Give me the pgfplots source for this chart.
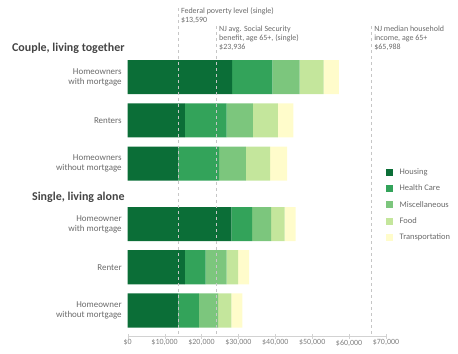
\documentclass[border=0pt]{standalone}
\usepackage{pgfplots}
\pgfplotsset{compat=1.18}
\usepackage{pgfplotstable}
\usepackage{fontspec}
\setmainfont{Carlito}
\definecolor{c1}{HTML}{0B6E37}
\definecolor{c2}{HTML}{33A35A}
\definecolor{c3}{HTML}{7CC67D}
\definecolor{c4}{HTML}{C4E69C}
\definecolor{c5}{HTML}{FFFCCB}
\definecolor{txt}{HTML}{6A6A6A}
\definecolor{hdr}{HTML}{444444}

\pgfplotstableread{
y housing health misc food transport
0 28300 10900 7400 6500 4100
-1 15500 11300 7100 6800 4200
-2 13700 11100 7200 6600 4600
-3.4 28100 5600 5200 3600 3000
-4.4 15500 5600 5700 3100 3000
-5.4 13700 5600 5200 3600 3000
}\data

\begin{document}
\begin{tikzpicture}
\useasboundingbox (0,0) rectangle (458bp,354bp);
\begin{axis}[
 at={(127.7bp,18bp)}, anchor=south west,
 scale only axis, width=258.3bp, height=331bp,
 xbar stacked, bar width=0.79,
 xmin=0, xmax=70000, ymin=-5.99, ymax=1.67,
 scaled x ticks=false,
 axis x line*=bottom, axis y line*=left,
 x axis line style={draw=gray!35,-},
 y axis line style={draw=none},
 ytick={0,-1,-2,-3.4,-4.4,-5.4},
 yticklabels={{Homeowners\\with mortgage},Renters,{Homeowners\\without mortgage},{Homeowner\\with mortgage},Renter,{Homeowner\\without mortgage}},
 yticklabel style={align=right, font=\fontsize{9}{10}\selectfont, text=txt},
 ytick style={draw=none},
 xtick={0,10000,20000,30000,40000,50000,60000,70000},
 xticklabels={{\$0},{\$10,000},{\$20,000},{\$30,000},{\$40,000},{\$50,000},{\$60,000},{\$70,000}},
 xticklabel style={font=\fontsize{8}{9}\selectfont, text=txt!85, inner sep=1bp},
 xtick style={draw=gray!35},
 tick align=center, major tick length=5bp,
 clip=false,
 legend style={at={(1,0.511)}, anchor=north west, draw=none, fill=none,
   font=\fontsize{8.5}{9}\selectfont, text=txt, cells={anchor=west},
   row sep=6bp, inner sep=0pt, nodes={inner sep=1.5bp},
   /tikz/every odd column/.append style={column sep=5bp}},
 legend image code/.code={\fill[#1] (1bp,-3.5bp) rectangle (8bp,3.5bp);},
]
\addplot[fill=c1, draw=none] table[x=housing, y=y] {\data};
\addplot[fill=c2, draw=none] table[x=health, y=y] {\data};
\addplot[fill=c3, draw=none] table[x=misc, y=y] {\data};
\addplot[fill=c4, draw=none] table[x=food, y=y] {\data};
\addplot[fill=c5, draw=none] table[x=transport, y=y] {\data};
\legend{Housing,Health Care,Miscellaneous,Food,Transportation}
\end{axis}
\begin{axis}[
 at={(127.7bp,18bp)}, anchor=south west,
 scale only axis, width=258.3bp, height=331bp,
 xmin=0, xmax=70000, ymin=-5.99, ymax=1.67,
 hide axis, clip=false,
]
\addplot[gray!45, dashed, line width=0.6pt] coordinates {(13590,1.60) (13590,-5.99)};
\addplot[gray!45, dashed, line width=0.6pt] coordinates {(23936,1.18) (23936,-5.99)};
\addplot[gray!45, dashed, line width=0.6pt] coordinates {(65988,1.18) (65988,-5.99)};
\node[anchor=north west, align=left, inner sep=0pt, xshift=3bp, text=txt, font=\fontsize{8}{8.7}\selectfont] at (axis cs:13590,1.61) {Federal poverty level (single)\\\$13,590};
\node[anchor=north west, align=left, inner sep=0pt, xshift=3bp, text=txt, font=\fontsize{8}{8.7}\selectfont] at (axis cs:23936,1.18) {NJ avg. Social Security\\benefit, age 65+, (single)\\\$23,936};
\node[anchor=north west, align=left, inner sep=0pt, xshift=3bp, text=txt, font=\fontsize{8}{8.7}\selectfont] at (axis cs:65988,1.18) {NJ median household\\income, age 65+\\\$65,988};
\node[anchor=east, inner sep=0pt, xshift=-3bp, text=hdr, font=\fontsize{12}{13}\selectfont\bfseries] at (axis cs:0,0.67) {Couple, living together};
\node[anchor=east, inner sep=0pt, xshift=-3bp, text=hdr, font=\fontsize{12}{13}\selectfont\bfseries] at (axis cs:0,-2.774) {Single, living alone};
\end{axis}
\end{tikzpicture}
\end{document}
